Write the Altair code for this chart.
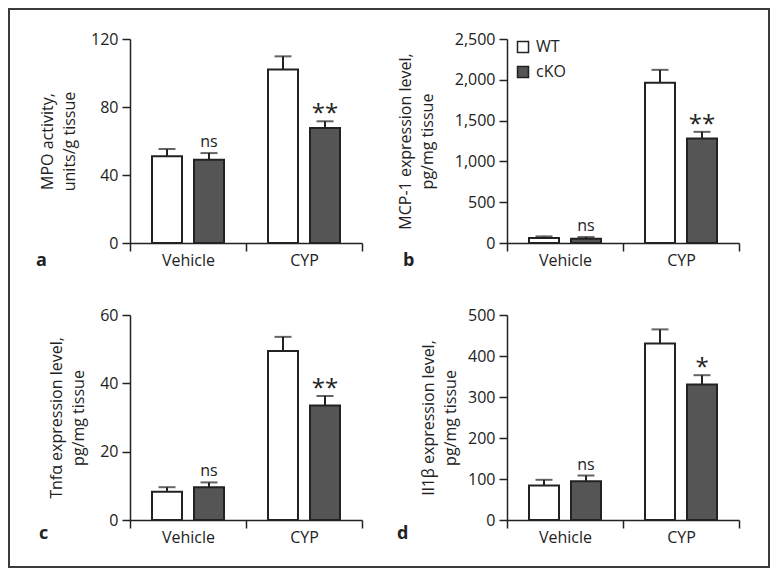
import altair as alt
import pandas as pd

# ---- data ----
treatments = ["Vehicle", "CYP"]
genotypes = ["WT", "cKO"]
row_treat = ["Vehicle", "Vehicle", "CYP", "CYP"]
row_geno = ["WT", "cKO", "WT", "cKO"]

mpo_mean = [51.0, 49.0, 102.0, 67.6]
mpo_sem = [4.3, 3.9, 7.8, 4.0]
mcp1_mean = [61, 53, 1963, 1280]
mcp1_sem = [20, 20, 159, 82]
tnf_mean = [8.3, 9.6, 49.5, 33.5]
tnf_sem = [1.3, 1.4, 4.1, 2.8]
il1b_mean = [84, 94.6, 430.7, 330.3]
il1b_sem = [14, 13.9, 34.2, 22.9]

sig_abc = ["", "ns", "", "**"]
sig_d = ["", "ns", "", "*"]

FONT = "Open Sans"
INK = "#222222"
DARK = "#555555"
W = 232


def panel(mean, sem, sig, ymax, yvals, ytitle, title_x, letter, letter_x, letter_y,
          height, fmt=None, legend=False, frame=False):
    df = pd.DataFrame({
        "treatment": row_treat,
        "genotype": row_geno,
        "mean": mean,
        "hi": [m + s for m, s in zip(mean, sem)],
        "sig": sig,
    })
    xscale = alt.Scale(domain=treatments, paddingInner=0, paddingOuter=0)
    xoscale = alt.Scale(domain=genotypes, paddingInner=12 / 42, paddingOuter=22 / 42)
    yscale = alt.Scale(domain=[0, ymax], nice=False, zero=True)

    x_axis = alt.Axis(title=None, tickBand="extent", labelAngle=0, labelPadding=1)
    yaxis_kw = dict(values=yvals, title=ytitle, titleX=title_x, titleBaseline="alphabetic",
                    titleAlign="center", titleAngle=270, titleLineHeight=22, labelPadding=4)
    if fmt:
        yaxis_kw["format"] = fmt
    y_axis = alt.Axis(**yaxis_kw)

    if legend:
        leg = alt.Legend(title=None, orient="none", legendX=8, legendY=0, symbolType="square",
                         symbolSize=121, symbolStrokeColor=INK, symbolStrokeWidth=1.5,
                         labelFont=FONT, labelFontSize=16, labelColor=INK, rowPadding=7,
                         padding=0, labelOffset=5)
    else:
        leg = None

    X = alt.X("treatment:N", scale=xscale, axis=x_axis)
    XO = alt.XOffset("genotype:N", scale=xoscale)

    def Y(field):
        return alt.Y(field, scale=yscale, axis=y_axis)

    bars = alt.Chart(df).mark_bar(stroke=INK, strokeWidth=2).encode(
        x=X,
        xOffset=XO,
        y=Y("mean:Q"),
        fill=alt.Fill("genotype:N", scale=alt.Scale(domain=genotypes, range=["#ffffff", DARK]),
                      legend=leg),
    )
    err = alt.Chart(df).mark_rule(color=INK, strokeWidth=2).encode(
        x=X, xOffset=XO, y=Y("mean:Q"), y2="hi:Q",
    )
    cap = alt.Chart(df).mark_tick(color=INK, thickness=2, size=17, orient="horizontal").encode(
        x=X, xOffset=XO, y=Y("hi:Q"),
    )
    ns = alt.Chart(df).transform_filter("datum.sig == 'ns'").mark_text(
        font=FONT, fontSize=16, color=INK, baseline="alphabetic", dy=-6
    ).encode(x=X, xOffset=XO, y=Y("hi:Q"), text="sig:N")
    stars = alt.Chart(df).transform_filter("indexof(datum.sig, '*') == 0").mark_text(
        font=FONT, fontSize=24, color=INK, baseline="alphabetic", dy=0
    ).encode(x=X, xOffset=XO, y=Y("hi:Q"), text="sig:N")
    let = alt.Chart(pd.DataFrame({"t": [letter]})).mark_text(
        font=FONT, fontSize=18, fontWeight="bold", color=INK, align="left", baseline="alphabetic"
    ).encode(x=alt.value(letter_x), y=alt.value(letter_y), text="t:N")

    layers = [bars, err, cap, ns, stars, let]
    if frame:
        fr = alt.Chart(pd.DataFrame({"f": [0]})).mark_rect(
            filled=False, stroke="#3a3a3a", strokeWidth=2
        ).encode(x=alt.value(-121), x2=alt.value(639), y=alt.value(-30), y2=alt.value(528))
        layers = [fr] + layers
    return alt.layer(*layers).properties(width=W, height=height)


pa = panel(mpo_mean, mpo_sem, sig_abc, 120, [0, 40, 80, 120],
           ["MPO activity,", "units/g tissue"], -78, "a", -94, 227, 204, frame=True)
pb = panel(mcp1_mean, mcp1_sem, sig_abc, 2500, [0, 500, 1000, 1500, 2000, 2500],
           ["MCP-1 expression level,", "pg/mg tissue"], -97, "b", -104, 227, 204,
           fmt=",.0f", legend=True)
pc = panel(tnf_mean, tnf_sem, sig_abc, 60, [0, 20, 40, 60],
           ["Tnfα expression level,", "pg/mg tissue"], -69, "c", -91, 224, 205)
pd_ = panel(il1b_mean, il1b_sem, sig_d, 500, [0, 100, 200, 300, 400, 500],
            ["Il1β expression level,", "pg/mg tissue"], -74, "d", -110, 224, 205)

chart = alt.concat(
    pa, pb, pc, pd_, columns=2, spacing={"row": 72, "column": 145}, bounds="flush"
).resolve_scale(
    x="independent", y="independent", fill="independent"
).resolve_legend(fill="independent").properties(
    padding=0, background="white"
).configure_view(stroke=None).configure_axis(
    grid=False, domainColor=INK, domainWidth=1.5, tickColor=INK, tickWidth=1.5, tickSize=8,
    labelFont=FONT, labelFontSize=16, labelColor=INK,
    titleFont=FONT, titleFontSize=16, titleColor=INK, titleFontWeight="normal",
)

chart.save("out.html", embed_options={"renderer": "svg", "actions": False})
